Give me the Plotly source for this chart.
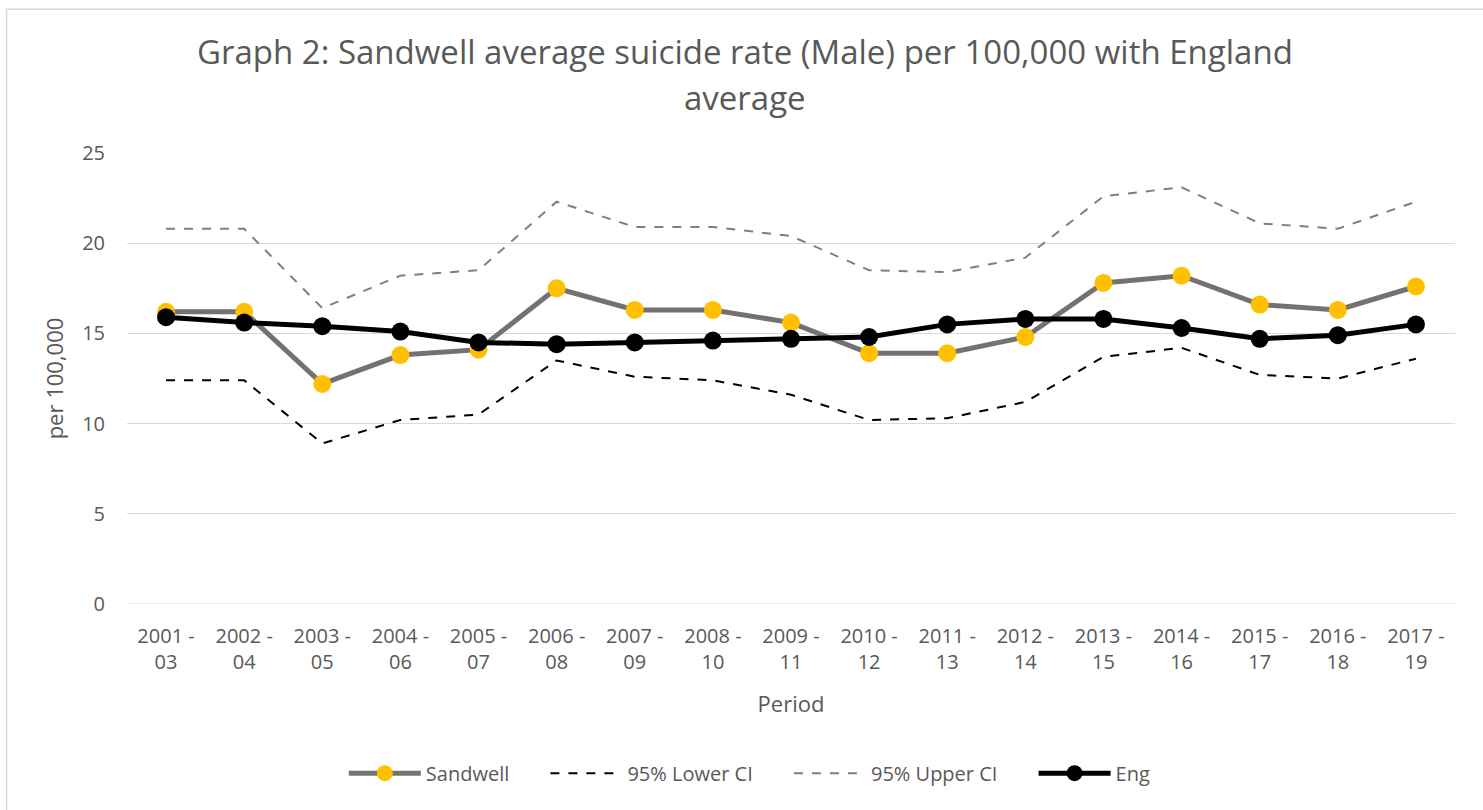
import plotly.graph_objects as go

periods = ["2001 -<br>03", "2002 -<br>04", "2003 -<br>05", "2004 -<br>06", "2005 -<br>07",
           "2006 -<br>08", "2007 -<br>09", "2008 -<br>10", "2009 -<br>11", "2010 -<br>12",
           "2011 -<br>13", "2012 -<br>14", "2013 -<br>15", "2014 -<br>16", "2015 -<br>17",
           "2016 -<br>18", "2017 -<br>19"]
sandwell = [16.2, 16.2, 12.2, 13.8, 14.1, 17.5, 16.3, 16.3, 15.6, 13.9, 13.9, 14.8, 17.8, 18.2, 16.6, 16.3, 17.6]
lower_ci = [12.4, 12.4, 8.9, 10.2, 10.5, 13.5, 12.6, 12.4, 11.6, 10.2, 10.3, 11.2, 13.7, 14.2, 12.7, 12.5, 13.6]
upper_ci = [20.8, 20.8, 16.4, 18.2, 18.5, 22.3, 20.9, 20.9, 20.4, 18.5, 18.4, 19.2, 22.6, 23.1, 21.1, 20.8, 22.3]
england = [15.9, 15.6, 15.4, 15.1, 14.5, 14.4, 14.5, 14.6, 14.7, 14.8, 15.5, 15.8, 15.8, 15.3, 14.7, 14.9, 15.5]
y_ticks = [0, 5, 10, 15, 20, 25]

FONT = "Open Sans, Carlito, Calibri, sans-serif"
TXT = "#595959"
PAD = "\u00a0" * 6

fig = go.Figure()
fig.add_trace(go.Scatter(x=periods, y=sandwell, name="Sandwell" + PAD, mode="lines+markers",
                         line=dict(color="#767171", width=5),
                         marker=dict(color="#FFC000", size=18)))
fig.add_trace(go.Scatter(x=periods, y=lower_ci, name="95% Lower CI" + PAD, mode="lines",
                         line=dict(color="#000000", width=2, dash="dash")))
fig.add_trace(go.Scatter(x=periods, y=upper_ci, name="95% Upper CI" + PAD, mode="lines",
                         line=dict(color="#7F7F7F", width=2, dash="dash")))
fig.add_trace(go.Scatter(x=periods, y=england, name="Eng", mode="lines+markers",
                         line=dict(color="#000000", width=5),
                         marker=dict(color="#000000", size=18)))

fig.update_layout(
    width=1483, height=810,
    margin=dict(l=127, r=28, t=153, b=206),
    paper_bgcolor="white", plot_bgcolor="white",
    font=dict(family=FONT, color=TXT, size=20),
    showlegend=True,
    legend=dict(orientation="h", x=0.469, xanchor="center", y=-0.375, yanchor="middle",
                font=dict(size=20, color=TXT, family=FONT), itemwidth=72),
    annotations=[
        dict(text="Graph 2: Sandwell average suicide rate (Male) per 100,000 with England",
             xref="paper", yref="paper", x=0.465, y=1.224, showarrow=False,
             xanchor="center", yanchor="middle", font=dict(size=33, color=TXT, family=FONT)),
        dict(text="average", xref="paper", yref="paper", x=0.465, y=1.122, showarrow=False,
             xanchor="center", yanchor="middle", font=dict(size=33, color=TXT, family=FONT)),
    ],
    shapes=[dict(type="rect", xref="paper", yref="paper", x0=-0.0907, x1=1.08, y0=-0.7, y1=1.319,
                 line=dict(color="#D9D9D9", width=1.5), fillcolor="rgba(0,0,0,0)", layer="below")],
)
fig.update_xaxes(type="category", range=[-0.5, 16.5], showgrid=False, zeroline=False,
                 showline=False, ticks="outside", ticklen=14, tickcolor="rgba(0,0,0,0)",
                 tickfont=dict(size=20, color=TXT, family=FONT),
                 title=dict(text="Period", font=dict(size=22, color=TXT, family=FONT), standoff=22))
fig.update_yaxes(range=[0, 25], tickvals=y_ticks, showgrid=True, gridcolor="#D9D9D9", gridwidth=1,
                 zeroline=False, showline=False, ticks="outside", ticklen=17,
                 tickcolor="rgba(0,0,0,0)", tickfont=dict(size=20, color=TXT, family=FONT),
                 title=dict(text="per 100,000", font=dict(size=22, color=TXT, family=FONT), standoff=12))
fig.add_shape(type="line", xref="paper", yref="y", x0=0, x1=1, y0=0, y1=0,
              line=dict(color="#D9D9D9", width=1), layer="below")

fig.write_html("out.html")
